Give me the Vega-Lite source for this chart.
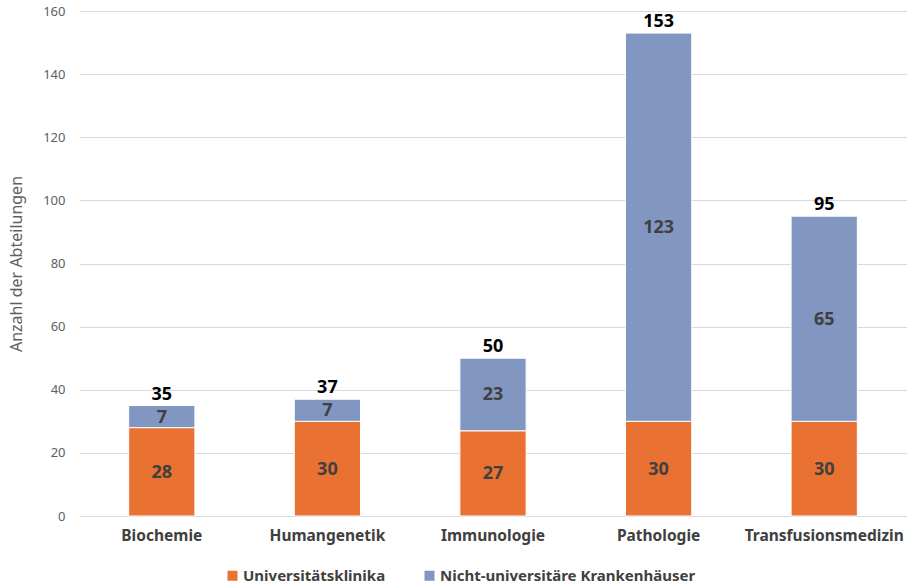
{
  "$schema": "https://vega.github.io/schema/vega-lite/v6.json",
  "autosize": "none",
  "width": 828,
  "height": 505,
  "padding": {"left": 79, "top": 11, "right": 0, "bottom": 71},
  "background": "white",
  "config": {
    "view": {"stroke": null},
    "font": "Noto Sans"
  },
  "data": {
    "values": [
      {"Fach": "Biochemie", "Traeger": "Universitätsklinika", "Anzahl": 28},
      {"Fach": "Biochemie", "Traeger": "Nicht-universitäre Krankenhäuser", "Anzahl": 7},
      {"Fach": "Humangenetik", "Traeger": "Universitätsklinika", "Anzahl": 30},
      {"Fach": "Humangenetik", "Traeger": "Nicht-universitäre Krankenhäuser", "Anzahl": 7},
      {"Fach": "Immunologie", "Traeger": "Universitätsklinika", "Anzahl": 27},
      {"Fach": "Immunologie", "Traeger": "Nicht-universitäre Krankenhäuser", "Anzahl": 23},
      {"Fach": "Pathologie", "Traeger": "Universitätsklinika", "Anzahl": 30},
      {"Fach": "Pathologie", "Traeger": "Nicht-universitäre Krankenhäuser", "Anzahl": 123},
      {"Fach": "Transfusionsmedizin", "Traeger": "Universitätsklinika", "Anzahl": 30},
      {"Fach": "Transfusionsmedizin", "Traeger": "Nicht-universitäre Krankenhäuser", "Anzahl": 65}
    ]
  },
  "transform": [
    {"calculate": "indexof(['Universitätsklinika', 'Nicht-universitäre Krankenhäuser'], datum.Traeger)", "as": "rang"},
    {"stack": "Anzahl", "groupby": ["Fach"], "sort": [{"field": "rang", "order": "ascending"}], "as": ["y0", "y1"]},
    {"calculate": "(datum.y0 + datum.y1) / 2", "as": "ymid"}
  ],
  "encoding": {
    "x": {
      "field": "Fach",
      "type": "nominal",
      "sort": ["Biochemie", "Humangenetik", "Immunologie", "Pathologie", "Transfusionsmedizin"],
      "scale": {"paddingInner": 0.6, "paddingOuter": 0.3},
      "axis": {
        "title": null,
        "labelAngle": 0,
        "labelFontSize": 15.5,
        "labelFontWeight": "bold",
        "labelColor": "#404040",
        "labelPadding": 12,
        "labelLimit": 0,
        "domain": false,
        "ticks": false,
        "grid": false
      }
    }
  },
  "layer": [
    {
      "mark": {"type": "bar", "stroke": "white", "strokeWidth": 1},
      "encoding": {
        "y": {
          "field": "y1",
          "type": "quantitative",
          "scale": {"domain": [0, 160]},
          "axis": {
            "title": "Anzahl der Abteilungen",
            "titleFontSize": 16,
            "titleFontWeight": "normal",
            "titleColor": "#606060",
            "titlePadding": 18,
            "values": [0, 20, 40, 60, 80, 100, 120, 140, 160],
            "labelFontSize": 13,
            "labelColor": "#606060",
            "labelPadding": 14,
            "domain": false,
            "ticks": false,
            "gridColor": "#d9d9d9",
            "gridWidth": 1
          }
        },
        "y2": {"field": "y0"},
        "color": {
          "field": "Traeger",
          "type": "nominal",
          "scale": {
            "domain": ["Universitätsklinika", "Nicht-universitäre Krankenhäuser"],
            "range": ["#E97132", "#8196C1"]
          },
          "legend": {
            "title": null,
            "orient": "none",
            "direction": "horizontal",
            "legendX": 146,
            "legendY": 557,
            "symbolType": "square",
            "symbolSize": 100,
            "symbolStrokeWidth": 0,
            "labelFontSize": 15,
            "labelFontWeight": "bold",
            "labelColor": "#404040",
            "labelOffset": 3,
            "labelLimit": 0,
            "columnPadding": 36
          }
        }
      }
    },
    {
      "mark": {"type": "text", "fontSize": 18, "fontWeight": "bold", "color": "#404040", "baseline": "middle", "dy": 1},
      "encoding": {
        "y": {"field": "ymid", "type": "quantitative"},
        "text": {"field": "Anzahl", "type": "quantitative"}
      }
    },
    {
      "mark": {"type": "text", "fontSize": 18, "fontWeight": "bold", "color": "#000000", "baseline": "bottom", "dy": -2},
      "encoding": {
        "y": {"aggregate": "max", "field": "y1", "type": "quantitative"},
        "text": {"aggregate": "max", "field": "y1", "type": "quantitative"}
      }
    }
  ]
}
